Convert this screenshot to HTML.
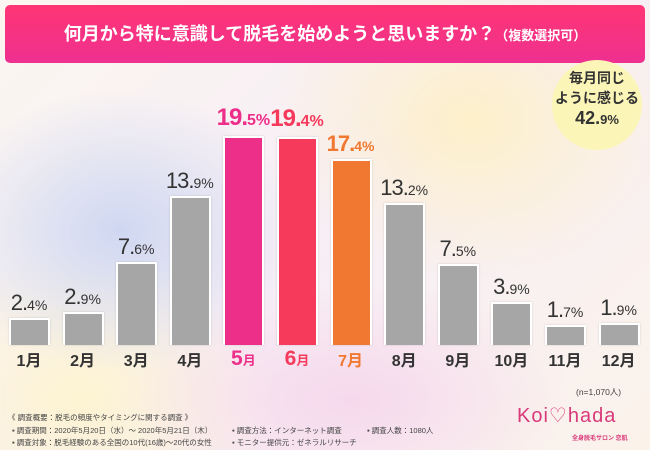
<!DOCTYPE html>
<html><head><meta charset="utf-8"><style>
body{margin:0;width:650px;height:450px;overflow:hidden;font-family:"Liberation Sans","Noto Sans CJK JP",sans-serif;}
#bg{position:absolute;left:0;top:0;width:650px;height:450px;background:
radial-gradient(ellipse 180px 140px at 120px 230px,rgba(190,205,240,.7),transparent),
radial-gradient(ellipse 200px 160px at 470px 120px,rgba(255,240,190,.8),transparent),
radial-gradient(ellipse 220px 120px at 350px 400px,rgba(245,210,235,.8),transparent),
radial-gradient(ellipse 200px 150px at 80px 400px,rgba(255,245,200,.8),transparent),
linear-gradient(135deg,#fbf6f0,#f7eef6 50%,#fbf3ea);}
.t{position:absolute;left:5px;top:5px;width:640px;height:58px;border-radius:5px;background:linear-gradient(#ff3574,#ee3090);color:#fff;font-weight:bold;font-size:18px;text-align:center;line-height:58px;}
.t small{font-size:13px}
.c{position:absolute;left:552px;top:60px;width:90px;height:90px;border-radius:50%;background:#fcf5b8;text-align:center;font-weight:bold;color:#333;font-size:14px;line-height:20px;padding-top:8px;box-sizing:border-box}
.bar{position:absolute;width:37px;border:2px solid #fff;border-bottom:none;background:#a6a6a6;box-shadow:0 0 2px rgba(0,0,0,.15)}
.v{position:absolute;width:70px;text-align:center;font-size:22px;color:#333;letter-spacing:-1px}
.v span{font-size:14px;letter-spacing:0}
.m{position:absolute;width:54px;text-align:center;font-size:16px;font-weight:bold;color:#333;top:347px}
.f{position:absolute;font-size:7.5px;color:#444;white-space:nowrap}
</style></head><body><div id="bg"></div>
<div class="t">何月から特に意識して脱毛を始めようと思いますか？<small>（複数選択可）</small></div>
<div class="c">毎月同じ<br>ように感じる<br><span style="font-size:18px">42.</span><span style="font-size:13px">9%</span></div>
<div id="ch"></div>
<div class="f" style="left:576px;top:386px;font-size:8.5px">(n=1,070人)</div>
<div class="f" style="left:8px;top:412px">《 調査概要：脱毛の頻度やタイミングに関する調査 》</div>
<div class="f" style="left:12px;top:425px">▪ 調査期間：2020年5月20日（水）～ 2020年5月21日（木）</div>
<div class="f" style="left:12px;top:437px">▪ 調査対象：脱毛経験のある全国の10代(16歳)～20代の女性</div>
<div class="f" style="left:232px;top:425px">▪ 調査方法：インターネット調査</div>
<div class="f" style="left:232px;top:437px">▪ モニター提供元：ゼネラルリサーチ</div>
<div class="f" style="left:367px;top:425px">▪ 調査人数：1080人</div>
<div style="position:absolute;left:517px;top:403px;font-size:20px;color:#d83a7a;letter-spacing:1px;font-family:'Liberation Sans',sans-serif">Koi♡hada</div>
<div style="position:absolute;left:572px;top:433px;font-size:6px;color:#d83a7a;font-weight:bold">全身脱毛サロン 恋肌</div>
<script>
var d=[2.4,2.9,7.6,13.9,19.5,19.4,17.4,13.2,7.5,3.9,1.7,1.9];
var col={4:'#ee2f8a',5:'#f53a5c',6:'#f07830'};
var h='';
d.forEach(function(v,i){
 var x=9+i*53.6,ht=v*10.6,top=343-ht,c=col[i]||'';
 h+='<div class="bar" style="left:'+x+'px;top:'+top+'px;height:'+ht+'px;'+(c?'background:'+c:'')+'"></div>';
 var s=v.toFixed(1).split('.');
 var big=(i==4||i==5);
 h+='<div class="v" style="left:'+(x-15)+'px;top:'+(top-(big?32:28))+'px;'+(c?'color:'+c+';font-weight:bold;':'')+(big?'font-size:24px':'')+'">'+s[0]+'.<span'+(big?' style="font-size:16px"':'')+'>'+s[1]+'%</span></div>';
 var ml=(i==4||i==5)?'<span style="font-size:21px">'+(i+1)+'</span><span style="font-size:13px">月</span>':(i+1)+'月';
 h+='<div class="m" style="left:'+(x-7)+'px;'+(c?'color:'+c+';':'')+'">'+ml+'</div>';
});
document.getElementById('ch').innerHTML=h;
</script>
</body></html>
